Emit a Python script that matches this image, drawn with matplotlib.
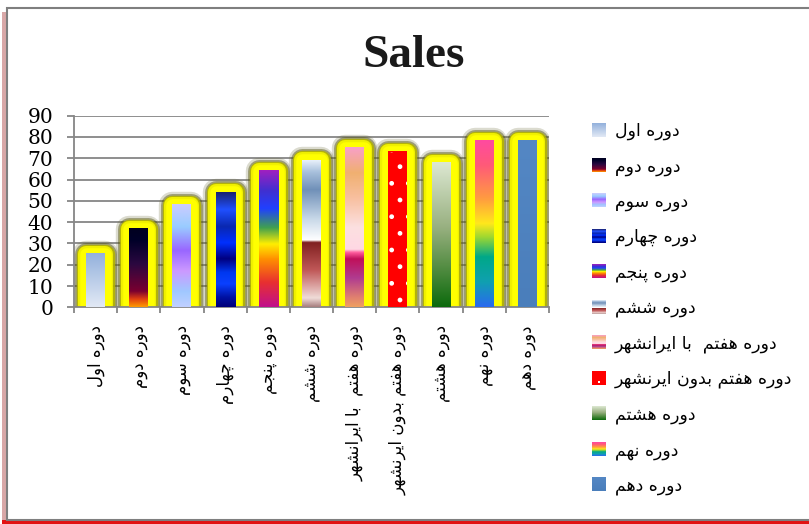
import numpy as np
import matplotlib
matplotlib.use("Agg")
import matplotlib.pyplot as plt
from matplotlib.colors import LinearSegmentedColormap
from matplotlib.patches import Rectangle
from matplotlib.legend_handler import HandlerBase
from matplotlib.image import BboxImage
from matplotlib.transforms import Bbox, TransformedBbox
import matplotlib.patheffects as pe

# Chart data
categories = ["دوره اول", "دوره دوم", "دوره سوم", "دوره چهارم", "دوره پنجم", "دوره ششم",
              "دوره هفتم  با ایرانشهر", "دوره هفتم بدون ایرنشهر", "دوره هشتم", "دوره نهم", "دوره دهم"]
sales = [25, 37, 48, 54, 64, 69, 75, 73, 68, 78, 78]
title = "Sales"
y_ticks = [0, 10, 20, 30, 40, 50, 60, 70, 80, 90]

# gradient fill of each bar, bottom -> top
fills = [
    [(0, "#e2e9f5"), (1, "#93b1dc")],
    [(0, "#ff9a00"), (0.1, "#e04010"), (0.2, "#7a0030"), (0.55, "#2a0840"), (0.85, "#000028"), (1, "#000020")],
    [(0, "#c0d0ff"), (0.15, "#a0c8ff"), (0.35, "#cc99ff"), (0.55, "#9966ff"), (0.78, "#99ccff"), (1, "#ccccff")],
    [(0, "#00007a"), (0.08, "#0010a0"), (0.2, "#0a40ff"), (0.3, "#0038f0"), (0.42, "#000080"),
     (0.56, "#0030ff"), (0.7, "#0a28b0"), (0.85, "#2050ff"), (1, "#1a2270")],
    [(0, "#c0108c"), (0.18, "#e83030"), (0.35, "#ff9000"), (0.46, "#ffee00"), (0.58, "#40a050"),
     (0.72, "#2040ff"), (0.85, "#4030d0"), (1, "#a020c0")],
    [(0, "#a88080"), (0.06, "#f0dcd8"), (0.25, "#c05858"), (0.44, "#802020"), (0.455, "#ffffff"),
     (0.6, "#c8d8e8"), (0.8, "#7090b8"), (0.92, "#a8c0dc"), (1, "#e8f0fa")],
    [(0, "#f0a060"), (0.06, "#e08070"), (0.18, "#b03c90"), (0.3, "#c0105a"), (0.34, "#ff5a9c"),
     (0.36, "#ffd8e4"), (0.5, "#fce0e0"), (0.68, "#f8c0a0"), (0.84, "#f0b070"), (1, "#f8a0c8")],
    [(0, "#ff0000"), (1, "#ff0000")],
    [(0, "#0c6a0c"), (0.3, "#5a9048"), (0.55, "#98b080"), (1, "#dde8d2")],
    [(0, "#2a6af0"), (0.15, "#10a0b0"), (0.3, "#00a888"), (0.42, "#a0d830"), (0.5, "#ffe81c"),
     (0.65, "#ff9c40"), (0.85, "#ff5a78"), (1, "#ff4aa0")],
    [(0, "#4a7ebb"), (1, "#5487c4")],
]
dotted = [False] * 7 + [True] + [False] * 3

# Arabic/Persian presentation forms: isolated, final, initial, medial
FORMS = {
    "ا": ("\uFE8D", "\uFE8E"), "د": ("\uFEA9", "\uFEAA"), "ر": ("\uFEAD", "\uFEAE"),
    "و": ("\uFEED", "\uFEEE"),
    "ب": ("\uFE8F", "\uFE90", "\uFE91", "\uFE92"), "پ": ("\uFB56", "\uFB57", "\uFB58", "\uFB59"),
    "ت": ("\uFE95", "\uFE96", "\uFE97", "\uFE98"), "ج": ("\uFE9D", "\uFE9E", "\uFE9F", "\uFEA0"),
    "چ": ("\uFB7A", "\uFB7B", "\uFB7C", "\uFB7D"), "س": ("\uFEB1", "\uFEB2", "\uFEB3", "\uFEB4"),
    "ش": ("\uFEB5", "\uFEB6", "\uFEB7", "\uFEB8"), "ف": ("\uFED1", "\uFED2", "\uFED3", "\uFED4"),
    "ل": ("\uFEDD", "\uFEDE", "\uFEDF", "\uFEE0"), "م": ("\uFEE1", "\uFEE2", "\uFEE3", "\uFEE4"),
    "ن": ("\uFEE5", "\uFEE6", "\uFEE7", "\uFEE8"), "ه": ("\uFEE9", "\uFEEA", "\uFEEB", "\uFEEC"),
    "ی": ("\uFBFC", "\uFBFD", "\uFBFE", "\uFBFF"),
}


def shape(text):
    """Join Persian letters and put them in visual order"""
    out = []
    for i, c in enumerate(text):
        if c not in FORMS:
            out.append(c)
            continue
        prev = text[i - 1] if i > 0 else ""
        nxt = text[i + 1] if i + 1 < len(text) else ""
        f = FORMS[c]
        join_prev = prev in FORMS and len(FORMS[prev]) == 4
        join_next = nxt in FORMS and len(f) == 4
        if join_prev and join_next:
            out.append(f[3])
        elif join_prev:
            out.append(f[1])
        elif join_next:
            out.append(f[2])
        else:
            out.append(f[0])
    return "".join(reversed(out))


class GradientHandler(HandlerBase):
    """Legend key drawn as a small gradient square"""
    def __init__(self, cmap, dots=False):
        super().__init__()
        self.cmap = cmap
        self.dots = dots

    def create_artists(self, legend, orig_handle, xdescent, ydescent, width, height, fontsize, trans):
        bb = TransformedBbox(Bbox.from_bounds(-xdescent, -ydescent, width, height), trans)
        img = BboxImage(bb, cmap=self.cmap, origin="lower", interpolation="bilinear")
        img.set_data(np.linspace(0, 1, 64).reshape(-1, 1))
        artists = [img]
        if self.dots:
            dot = Rectangle((-xdescent + width * 0.45, -ydescent + height * 0.15), width * 0.12, height * 0.12,
                            facecolor="white", edgecolor="none", transform=trans)
            artists.append(dot)
        return artists


fig = plt.figure(figsize=(8.09, 5.24), dpi=100)
W, H = 809, 524

# chart frame with red shadow
fig.add_artist(Rectangle((2 / W, 1 - 520 / H), 6 / W, 508 / H, transform=fig.transFigure,
                         facecolor="#d9a8a8", edgecolor="none", zorder=-3))
fig.add_artist(Rectangle((2 / W, 0), 1, 4 / H, transform=fig.transFigure,
                         facecolor="#e21212", edgecolor="none", zorder=-3))
fig.add_artist(Rectangle((7 / W, 1 - 520 / H), 1, 512 / H, transform=fig.transFigure,
                         facecolor="white", edgecolor="#7f7f7f", linewidth=1.5, zorder=-2))

ax = fig.add_axes([74 / W, 1 - 307.3 / H, 475 / W, 191.6 / H])
ax.set_facecolor("none")

x = np.arange(len(categories))
# soft yellow glow around the bars
glow = [pe.Stroke(linewidth=19, foreground="#707040", alpha=0.25, joinstyle="round"),
        pe.Stroke(linewidth=16.5, foreground="#50500c", alpha=0.45, joinstyle="round"),
        pe.Stroke(linewidth=14, foreground="#b4b400", alpha=0.9, joinstyle="round"),
        pe.Stroke(linewidth=11.5, foreground="#f0f000", joinstyle="round"),
        pe.Stroke(linewidth=9, foreground="#ffff00", joinstyle="round")]

handles = []
handler_map = {}
for i, name in enumerate(categories):
    cmap = LinearSegmentedColormap.from_list(f"fill{i}", fills[i])
    bars = ax.bar(x[i], sales[i], width=0.44, facecolor="none", edgecolor="none", zorder=2)
    rect = bars.patches[0]
    rect.set_path_effects(glow)
    rect.set_edgecolor("#ffff00")
    rect.set_linewidth(0.1)
    x0, w, h = rect.get_x(), rect.get_width(), rect.get_height()
    ax.imshow(np.linspace(0, 1, 256).reshape(-1, 1), cmap=cmap, origin="lower", aspect="auto",
              extent=(x0, x0 + w, 0, h), interpolation="bilinear", zorder=3)
    if dotted[i]:
        ax.bar(x[i], sales[i], width=0.44, facecolor="none", edgecolor="white", linewidth=0,
               hatch=".", zorder=4)
    handles.append(rect)
    handler_map[rect] = GradientHandler(cmap, dotted[i])

ax.set_xlim(-0.5, len(categories) - 0.5)
ax.set_ylim(0, 90)
ax.set_yticks(y_ticks)
ax.yaxis.grid(True, color="#868686", linewidth=1.3, zorder=0)
ax.set_axisbelow(True)
for s in ["top", "right"]:
    ax.spines[s].set_visible(False)
for s in ["left", "bottom"]:
    ax.spines[s].set_color("#868686")
    ax.spines[s].set_linewidth(1.3)

ax.tick_params(axis="y", length=5, width=1.3, color="#868686", pad=10, labelsize=14.5)
for t in ax.get_yticklabels():
    t.set_fontfamily("DejaVu Serif")

ax.set_xticks(x)
ax.set_xticklabels([shape(c) for c in categories], rotation=90, fontsize=12, family="DejaVu Sans")
ax.tick_params(axis="x", length=0, pad=13)
ax.set_xticks(np.arange(-0.5, len(categories)), minor=True)
ax.tick_params(axis="x", which="minor", length=4, width=1.3, color="#868686")

fig.text(414 / W, 1 - 56 / H, title, fontsize=34, fontweight="bold", family="Liberation Serif",
         ha="center", va="center", color="#1a1a1a")

fig.legend(handles, [shape(c) for c in categories], handler_map=handler_map,
           loc="upper left", bbox_to_anchor=(592 / W, 1 - 122 / H), frameon=False,
           fontsize=12.5, handlelength=0.8, handleheight=0.8, handletextpad=0.5,
           labelspacing=0.98, borderpad=0, borderaxespad=0)

fig.savefig("out.png", dpi=100)
